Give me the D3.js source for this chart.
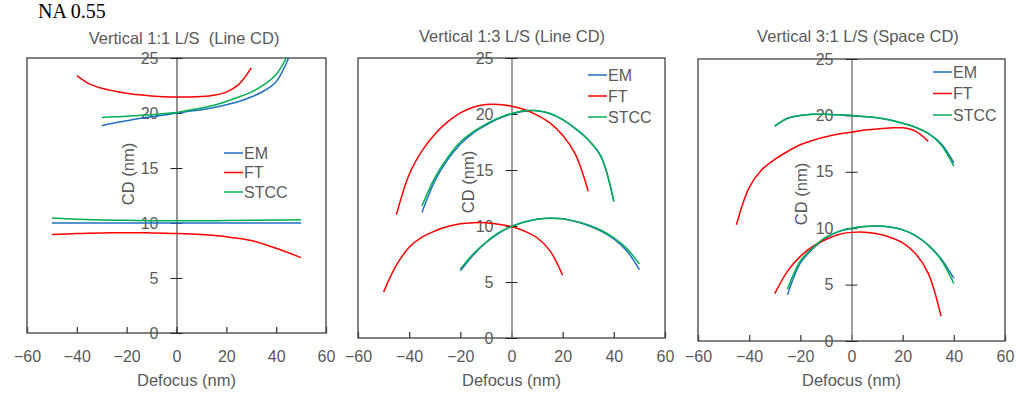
<!DOCTYPE html>
<html>
<head>
<meta charset="utf-8">
<script src="https://cdn.jsdelivr.net/npm/d3@7"></script>
<style>
  html, body { margin: 0; padding: 0; background: #fff; }
  svg { display: block; }
  text { font-family: "Liberation Sans", Arial, sans-serif; }
</style>
</head>
<body>
<svg id="chart" width="1017" height="397"></svg>
<script>
// ---------- data ----------
const seriesNames = ["EM", "FT", "STCC"];
const xTicks = [-60, -40, -20, 0, 20, 40, 60];
const yTicks = [0, 5, 10, 15, 20, 25];
const panelTitles = [
  "Vertical 1:1 L/S  (Line CD)",
  "Vertical 1:3 L/S (Line CD)",
  "Vertical 3:1 L/S (Space CD)"
];

// Vertical 1:1 L/S (Line CD)
const p1EmHiX   = [-30,-25,-20,-15,-10,-5,0,5,10,15,20,25,30,35,40,45];
const p1EmHiCD  = [18.85,19.1,19.3,19.5,19.65,19.82,20.0,20.15,20.3,20.5,20.75,21.05,21.45,22.0,22.85,25.0];
const p1StccHiX = [-30,-25,-20,-15,-10,-5,0,5,10,15,20,25,30,35,40,45];
const p1StccHiCD= [19.6,19.65,19.7,19.78,19.85,19.95,20.05,20.25,20.45,20.7,21.05,21.45,21.9,22.55,23.5,25.4];
const p1FtHiX   = [-40,-35,-30,-25,-20,-15,-10,-5,0,5,10,15,20,25,30];
const p1FtHiCD  = [23.4,22.65,22.25,22.0,21.8,21.65,21.55,21.48,21.45,21.45,21.5,21.62,21.9,22.6,24.1];
const p1LoX     = [-50,-40,-30,-20,-10,0,10,20,30,40,50];
const p1EmLoCD  = [10.0,10.0,10.0,10.0,10.0,10.0,10.0,10.0,10.0,10.0,10.0];
const p1StccLoCD= [10.45,10.35,10.28,10.24,10.2,10.2,10.2,10.22,10.24,10.27,10.3];
const p1FtLoCD  = [8.95,9.05,9.1,9.12,9.1,9.05,8.95,8.75,8.4,7.7,6.85];

// Vertical 1:3 L/S (Line CD)
const p2FtHiX   = [-45,-40,-35,-30,-25,-20,-15,-10,-5,0,5,10,15,20,25,30];
const p2FtHiCD  = [11.0,14.6,16.7,18.2,19.3,20.1,20.6,20.85,20.85,20.7,20.4,19.9,19.2,18.1,16.4,13.1];
const p2HiX     = [-35,-30,-25,-20,-15,-10,-5,0,5,10,15,20,25,30,35,40];
const p2EmHiCD  = [11.2,14.0,15.9,17.3,18.3,19.0,19.6,20.0,20.25,20.3,20.05,19.5,18.7,17.7,16.2,12.2];
const p2StccHiCD= [11.8,14.3,16.1,17.5,18.4,19.1,19.65,20.05,20.3,20.3,20.05,19.5,18.7,17.7,16.2,12.2];
const p2FtLoX   = [-50,-45,-40,-35,-30,-25,-20,-15,-10,-5,0,5,10,15,20];
const p2FtLoCD  = [4.1,6.5,8.1,9.0,9.55,9.95,10.2,10.3,10.3,10.15,9.95,9.55,8.95,7.8,5.6];
const p2LoX     = [-20,-15,-10,-5,0,5,10,15,20,25,30,35,40,45,50];
const p2EmLoCD  = [6.0,7.4,8.5,9.35,9.95,10.35,10.6,10.7,10.65,10.4,10.05,9.55,8.85,7.8,6.1];
const p2StccLoCD= [6.15,7.5,8.55,9.4,9.95,10.35,10.6,10.7,10.65,10.42,10.1,9.62,8.95,8.0,6.6];

// Vertical 3:1 L/S (Space CD)
const p3FtHiX   = [-45,-40,-35,-30,-25,-20,-15,-10,-5,0,5,10,15,20,25,30];
const p3FtHiCD  = [10.3,13.6,15.2,16.1,16.8,17.4,17.8,18.1,18.35,18.5,18.7,18.8,18.88,18.9,18.6,17.7];
const p3HiX     = [-30,-25,-20,-15,-10,-5,0,5,10,15,20,25,30,35,40];
const p3EmHiCD  = [19.05,19.75,20.0,20.1,20.1,20.05,20.0,19.9,19.8,19.6,19.3,18.95,18.4,17.5,15.8];
const p3StccHiCD= [19.05,19.75,20.0,20.1,20.1,20.05,20.0,19.9,19.8,19.6,19.3,18.95,18.4,17.4,15.5];
const p3FtLoX   = [-30,-25,-20,-15,-10,-5,0,5,10,15,20,25,30,35];
const p3FtLoCD  = [4.2,6.2,7.5,8.4,9.0,9.45,9.63,9.65,9.5,9.2,8.7,7.75,6.0,2.2];
const p3LoX     = [-25,-20,-15,-10,-5,0,5,10,15,20,25,30,35,40];
const p3EmLoCD  = [4.1,6.9,8.2,9.15,9.7,9.98,10.15,10.2,10.1,9.85,9.35,8.5,7.3,5.55];
const p3StccLoCD= [4.6,7.1,8.3,9.2,9.72,10.0,10.15,10.2,10.1,9.85,9.35,8.5,7.2,5.1];

// ---------- styling ----------
const colors = { EM: "#1F6FC5", FT: "#FF0000", STCC: "#00B050" };
const textGray = "#595959";

const zip = (xs, ys) => xs.map((x, i) => ({ x, y: ys[i] }));

// each panel: its frame, its curves (drawn EM, FT, STCC so green ends on top)
const panels = [
  {
    title: panelTitles[0], box: { l: 27, r: 326, t: 58, b: 333 },
    titleX: 184, titleY: 44, yTitle: { x: 128, y: 174 },
    legend: { x: 224, y: 153, dy: 19.5 }, zeroColor: "#262626", zeroWidth: 1,
    curves: [
      ["EM", zip(p1EmHiX, p1EmHiCD)], ["EM", zip(p1LoX, p1EmLoCD)],
      ["FT", zip(p1FtHiX, p1FtHiCD)], ["FT", zip(p1LoX, p1FtLoCD)],
      ["STCC", zip(p1StccHiX, p1StccHiCD)], ["STCC", zip(p1LoX, p1StccLoCD)]
    ]
  },
  {
    title: panelTitles[1], box: { l: 358, r: 665, t: 58, b: 338 },
    titleX: 512, titleY: 42, yTitle: { x: 468, y: 182 },
    legend: { x: 588, y: 75, dy: 21 }, zeroColor: "#7F7F7F", zeroWidth: 1.5,
    curves: [
      ["EM", zip(p2HiX, p2EmHiCD)], ["EM", zip(p2LoX, p2EmLoCD)],
      ["FT", zip(p2FtHiX, p2FtHiCD)], ["FT", zip(p2FtLoX, p2FtLoCD)],
      ["STCC", zip(p2HiX, p2StccHiCD)], ["STCC", zip(p2LoX, p2StccLoCD)]
    ]
  },
  {
    title: panelTitles[2], box: { l: 698, r: 1005, t: 59, b: 341 },
    titleX: 858, titleY: 42, yTitle: { x: 801, y: 194 },
    legend: { x: 933, y: 72, dy: 21.5 }, zeroColor: "#7F7F7F", zeroWidth: 1.5,
    curves: [
      ["EM", zip(p3HiX, p3EmHiCD)], ["EM", zip(p3LoX, p3EmLoCD)],
      ["FT", zip(p3FtHiX, p3FtHiCD)], ["FT", zip(p3FtLoX, p3FtLoCD)],
      ["STCC", zip(p3HiX, p3StccHiCD)], ["STCC", zip(p3LoX, p3StccLoCD)]
    ]
  }
];

const svg = d3.select("#chart");

// overall heading
svg.append("text")
  .attr("x", 38).attr("y", 18)
  .style("font-family", "'Liberation Serif', 'Times New Roman', serif")
  .style("font-size", "20px").attr("fill", "#000")
  .text("NA 0.55");

panels.forEach((p, pi) => {
  const { l, r, t, b } = p.box;
  const x = d3.scaleLinear().domain([-60, 60]).range([l, r]);
  const y = d3.scaleLinear().domain([0, 25]).range([b, t]);
  const g = svg.append("g");

  const clipId = "clip" + pi;
  svg.append("defs").append("clipPath").attr("id", clipId)
    .append("rect").attr("x", l).attr("y", t).attr("width", r - l).attr("height", b - t);

  // plot frame
  g.append("rect")
    .attr("x", l).attr("y", t).attr("width", r - l).attr("height", b - t)
    .attr("fill", "none").attr("stroke", "#404040").attr("stroke-width", 1.3);

  // x axis along the bottom, ticks pointing inward
  const xAxis = g.append("g")
    .attr("transform", `translate(0,${b})`)
    .call(d3.axisBottom(x).tickValues(xTicks).tickSizeInner(-6).tickSizeOuter(0)
      .tickPadding(357 - b - 6));
  xAxis.select(".domain").remove();
  xAxis.selectAll(".tick line").attr("stroke", "#404040").attr("stroke-width", 1.3);
  xAxis.selectAll(".tick text").attr("fill", textGray).style("font-size", "16px");

  // y axis through defocus 0, ticks crossing the line
  const yAxis = g.append("g")
    .attr("transform", `translate(${x(0)},0)`)
    .call(d3.axisLeft(y).tickValues(yTicks).tickSizeInner(6).tickSizeOuter(0).tickPadding(12));
  yAxis.select(".domain").attr("stroke", p.zeroColor).attr("stroke-width", p.zeroWidth);
  yAxis.selectAll(".tick line").attr("stroke", "#262626").attr("x2", 6).attr("x1", -6);
  yAxis.selectAll(".tick text").attr("fill", textGray).style("font-size", "16px");

  // curves
  const line = d3.line().x(d => x(d.x)).y(d => y(d.y)).curve(d3.curveCatmullRom.alpha(0.5));
  const cg = g.append("g").attr("clip-path", `url(#${clipId})`);
  p.curves.forEach(([name, pts]) => {
    cg.append("path").datum(pts)
      .attr("d", line)
      .attr("fill", "none")
      .attr("stroke", colors[name])
      .attr("stroke-width", 1.5);
  });

  // titles
  g.append("text")
    .attr("x", p.titleX).attr("y", p.titleY)
    .attr("text-anchor", "middle").attr("fill", textGray)
    .style("white-space", "pre")
    .style("font-size", "16.5px").text(p.title);
  g.append("text")
    .attr("text-anchor", "middle").attr("fill", textGray)
    .attr("transform", `translate(${p.yTitle.x},${p.yTitle.y}) rotate(-90)`)
    .attr("dy", "0.35em").style("font-size", "16.5px").text("CD (nm)");
  g.append("text")
    .attr("x", (l + r) / 2 + (pi === 0 ? 10 : 0)).attr("y", 380)
    .attr("dy", "0.35em")
    .attr("text-anchor", "middle").attr("fill", textGray)
    .style("font-size", "16.5px").text("Defocus (nm)");

  // legend
  const lg = g.append("g");
  seriesNames.forEach((name, i) => {
    const ly = p.legend.y + i * p.legend.dy;
    lg.append("line")
      .attr("x1", p.legend.x).attr("x2", p.legend.x + 19)
      .attr("y1", ly).attr("y2", ly)
      .attr("stroke", colors[name]).attr("stroke-width", 1.5);
    lg.append("text")
      .attr("x", p.legend.x + 20).attr("y", ly).attr("dy", "0.35em")
      .attr("fill", textGray).style("font-size", "16px").text(name);
  });
});
</script>
</body>
</html>
